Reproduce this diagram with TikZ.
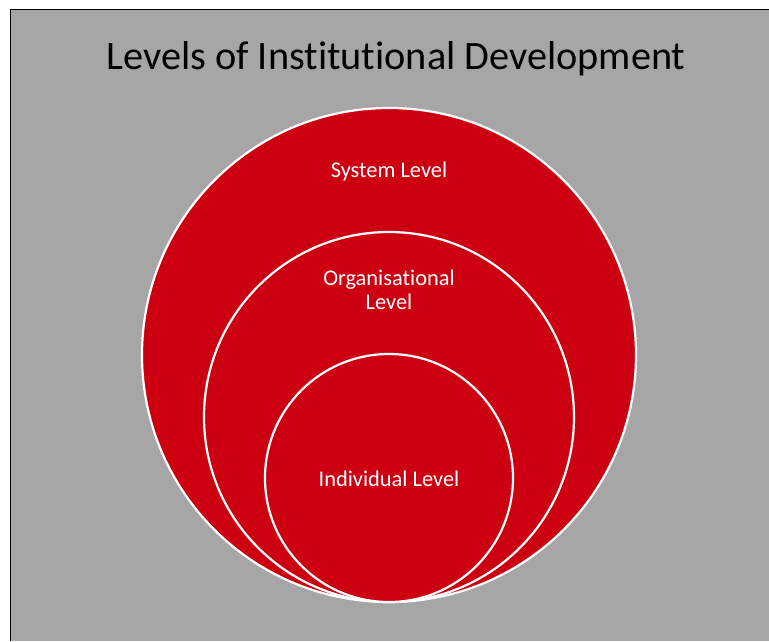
\documentclass[tikz,border=0pt]{standalone}
\usepackage{fontspec}
\setmainfont[Ligatures=NoCommon]{Carlito}
\definecolor{bggrey}{HTML}{A6A6A6}
\definecolor{lvred}{HTML}{CC0010}
\begin{document}
\begin{tikzpicture}[x=1pt,y=-1pt,
  level/.style={circle,fill=lvred,draw=white,line width=2.2pt,inner sep=0pt},
  lbl/.style={text=white,font=\fontsize{22.4}{24}\selectfont,align=center}]
\useasboundingbox (0,0) rectangle (769,641);
\fill[white] (0,0) rectangle (769,641);
\fill[bggrey] (10.5,9.5) rectangle (769,641);
\draw[black,line width=1.5pt] (10.5,641) -- (10.5,9.5) -- (769,9.5);
\node (title) at (396,59) {\fontsize{40.3}{44}\selectfont Levels of Institutional Development};
\node[level,minimum size=494pt] (sys) at (389,355) {};
\node[level,minimum size=370pt] (org) at (389,417) {};
\node[level,minimum size=248pt] (ind) at (389,478) {};
\node[lbl] (syslbl) at (389,172) {System Level};
\node[lbl] (orglbl) at (389,290) {Organisational\\Level};
\node[lbl] (indlbl) at (389,479) {Individual Level};
\end{tikzpicture}
\end{document}
